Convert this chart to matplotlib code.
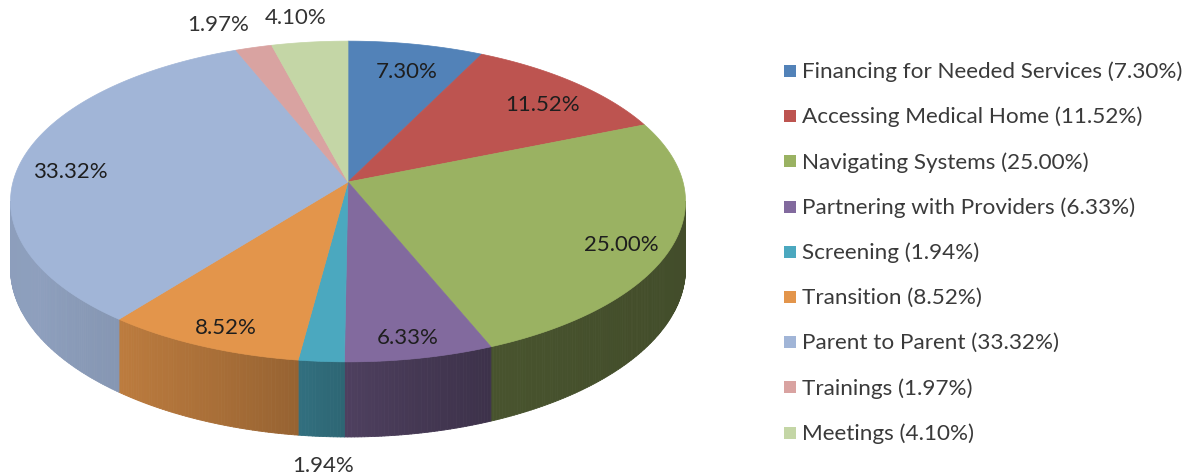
import numpy as np
import matplotlib
matplotlib.use("Agg")
import matplotlib.pyplot as plt
from matplotlib.patches import Polygon, Rectangle
from matplotlib.collections import PolyCollection
from matplotlib.colors import to_rgb

# ---------------- data ----------------
categories = ["Financing for Needed Services", "Accessing Medical Home", "Navigating Systems",
              "Partnering with Providers", "Screening", "Transition", "Parent to Parent",
              "Trainings", "Meetings"]
values = [7.30, 11.52, 25.00, 6.33, 1.94, 8.52, 33.32, 1.97, 4.10]
colors = ["#5282B8", "#BD5450", "#9AB262", "#826A9E", "#4BA8BF", "#E3954B",
          "#A1B5D7", "#D9A3A1", "#C4D6A6"]

# ---------------- layout (pixel space) ----------------
W, Hfig = 1194, 477
CX, CY = 348, 183          # pie centre
RX, RY = 335, 158          # horizontal / vertical radius
DEPTH = 66                 # wall height
PD = 8.23                  # perspective distance
FS_LAB = 16
FS_LEG = 16.2

plt.rcParams['font.family'] = ['Lato', 'DejaVu Sans']
fig = plt.figure(figsize=(W / 100, Hfig / 100), dpi=100)
ax = fig.add_axes([0, 0, 1, 1])
ax.set_xlim(0, W)
ax.set_ylim(Hfig, 0)
ax.axis('off')


def proj(theta_deg, r=1.0, z=0.0):
    t = np.radians(theta_deg)
    u = r * np.sin(t)
    v = r * np.cos(t)
    s = PD / (PD + v)
    return CX + RX * u * s, CY - RY * v * s + DEPTH * s * z


def shade(theta):
    tab_t = [90, 130, 158, 170, 180, 187, 200, 218, 240, 270]
    tab_s = [0.43, 0.44, 0.47, 0.53, 0.60, 0.66, 0.74, 0.83, 0.88, 0.87]
    return np.interp(theta, tab_t, tab_s)


total = sum(values)
fracs = np.array(values) / total
bounds = np.concatenate([[0], np.cumsum(fracs)]) * 360.0

vis_lo = np.degrees(np.arccos(-1.0 / PD))
vis_hi = 360 - vis_lo

# ---- side walls ----
polys, fcs = [], []
for i, c in enumerate(colors):
    a0, a1 = max(bounds[i], vis_lo), min(bounds[i + 1], vis_hi)
    if a1 <= a0:
        continue
    n = max(2, int((a1 - a0) / 0.5) + 1)
    ts = np.linspace(a0, a1, n)
    base = np.array(to_rgb(c))
    for t0, t1 in zip(ts[:-1], ts[1:]):
        x0, y0 = proj(t0)
        x1, y1 = proj(t1)
        x0b, y0b = proj(t0, z=1)
        x1b, y1b = proj(t1, z=1)
        polys.append([(x0, y0), (x1, y1), (x1b, y1b), (x0b, y0b)])
        fcs.append(np.clip(base * shade((t0 + t1) / 2), 0, 1))
pc = PolyCollection(polys, facecolors=fcs, edgecolors=fcs, linewidths=0.6)
ax.add_collection(pc)

# ---- top faces ----
for i, c in enumerate(colors):
    a0, a1 = bounds[i], bounds[i + 1]
    n = max(3, int((a1 - a0) / 0.5) + 1)
    ts = np.linspace(a0, a1, n)
    xs, ys = proj(ts)
    pts = [(CX, CY)] + list(zip(xs, ys))
    ax.add_patch(Polygon(pts, closed=True, facecolor=c, edgecolor=c, linewidth=0.5))

# ---- data labels ----
lab_color = "#1E1E1E"
for i, v in enumerate(values):
    mid = (bounds[i] + bounds[i + 1]) / 2
    txt = f"{v:.2f}%"
    if v < 5:
        t = np.radians(mid)
        u, vv = np.sin(t), np.cos(t)
        if vv < 0:
            ex, ey = proj(mid, 1.0, 1.0)
            lx, ly = ex + 2, ey + 29
        else:
            ex, ey = proj(mid, 1.0, 0.0)
            lx, ly = ex + 112 * u, ey - 25 * vv
        ax.text(lx, ly, txt, ha='center', va='center', fontsize=FS_LAB, color="#333333")
    else:
        lx, ly = proj(mid, 0.85)
        ax.text(lx, ly + 8, txt, ha='center', va='center', fontsize=FS_LAB, color=lab_color)

# ---- legend ----
LX, LY0, PITCH, SQ = 784, 72, 45.2, 12
for i, (cat, v, c) in enumerate(zip(categories, values, colors)):
    y = LY0 + i * PITCH
    ax.add_patch(Rectangle((LX, y - SQ / 2), SQ, SQ, facecolor=c, edgecolor='none'))
    ax.text(LX + SQ + 6, y, f"{cat} ({v:.2f}%)", ha='left', va='center',
            fontsize=FS_LEG, color="#3A3A3A")

fig.savefig("out.png", dpi=100, facecolor='white')
